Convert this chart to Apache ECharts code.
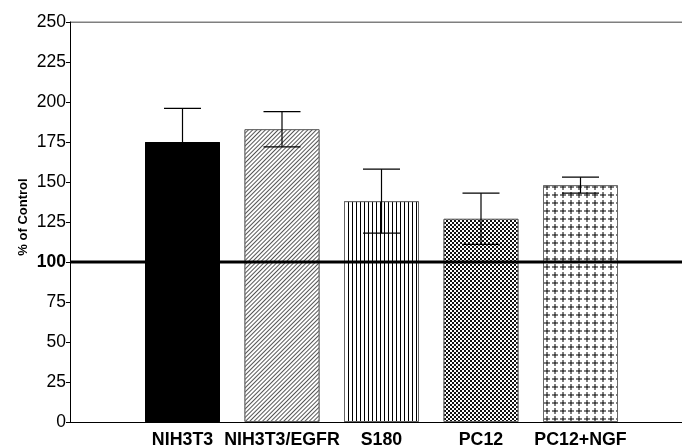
<!DOCTYPE html>
<html>
<head>
<meta charset="utf-8">
<script src="https://cdn.jsdelivr.net/npm/echarts@6/dist/echarts.min.js"></script>
<style>
  html, body { margin: 0; padding: 0; background: #fff; }
  #chart { width: 682px; height: 447px; }
</style>
</head>
<body>
<div id="chart"></div>
<script>
// Cell lines and their response, expressed as % of control
const categories = ['NIH3T3', 'NIH3T3/EGFR', 'S180', 'PC12', 'PC12+NGF'];
const percentOfControl = [175, 183, 138, 127, 148];
const errorSize = [21, 11, 20, 16, 5];
const controlLevel = 100;
const yTickValues = [0, 25, 50, 75, 100, 125, 150, 175, 200, 225, 250];

const FONT = 'Liberation Sans, Arial, Helvetica, sans-serif';
const yMin = yTickValues[0];
const yMax = yTickValues[yTickValues.length - 1];
const yStep = yTickValues[1] - yTickValues[0];

// Fill patterns for each bar
const patterns = [
  { symbol: 'none' },
  { symbol: 'rect', symbolSize: 1, color: '#555', backgroundColor: '#fff',
    dashArrayX: [1, 0], dashArrayY: [1, 2], rotation: -Math.PI / 4 },
  { symbol: 'rect', symbolSize: 1, color: '#000', backgroundColor: '#fff',
    dashArrayX: [1, 3], dashArrayY: [1, 0] },
  { symbol: 'rect', symbolSize: 1, color: '#111', backgroundColor: '#fff',
    dashArrayX: [[1.5, 1.5], [0, 1.5, 1.5, 0]], dashArrayY: [1.5, 0] },
  { symbol: 'path://M0,2.5h6v1h-6z M2.5,0h1v6h-1z', symbolSize: 1, symbolKeepAspect: false,
    color: '#000', backgroundColor: '#fff',
    dashArrayX: [5.5, 2], dashArrayY: [5.5, 2] }
];
const barFill = ['#000', '#fff', '#fff', '#fff', '#fff'];
const barBorder = ['#000', '#666', '#666', '#666', '#666'];

const barData = percentOfControl.map((v, i) => ({
  value: v,
  itemStyle: {
    color: barFill[i],
    borderColor: barBorder[i],
    borderWidth: 1,
    decal: patterns[i]
  }
}));

const errorData = percentOfControl.map((v, i) => [i, v - errorSize[i], v + errorSize[i]]);

const chart = echarts.init(document.getElementById('chart'), null, { renderer: 'canvas' });

chart.setOption({
  animation: false,
  backgroundColor: '#fff',
  aria: { enabled: true, decal: { show: true } },
  grid: [
    // frame grid: carries the value axis and the reference lines
    { left: 70, right: 0, top: 22, bottom: 25, containLabel: false, outerBoundsMode: 'none' },
    // bar grid: category bands
    { left: 132.75, right: 51.75, top: 22, bottom: 25, containLabel: false, outerBoundsMode: 'none' }
  ],
  xAxis: [
    {
      gridIndex: 0, type: 'value', min: 0, max: 1,
      axisLine: { show: true, onZero: false, lineStyle: { color: '#000', width: 1 } },
      axisTick: { show: false }, axisLabel: { show: false }, splitLine: { show: false }
    },
    {
      gridIndex: 1, type: 'category', data: categories,
      axisLine: { show: false }, axisTick: { show: false }, splitLine: { show: false },
      axisLabel: {
        interval: 0,
        color: '#000', fontFamily: FONT, fontWeight: 'bold', fontSize: 17.8, margin: 9
      }
    }
  ],
  yAxis: [
    {
      gridIndex: 0, type: 'value', min: yMin, max: yMax, interval: yStep,
      axisLine: { show: true, lineStyle: { color: '#000', width: 1 } },
      axisTick: { show: true, length: 4, lineStyle: { color: '#000' } },
      splitLine: { show: false },
      axisLabel: {
        color: '#000', fontFamily: FONT, fontSize: 17.5, margin: 4,
        formatter: v => (v === controlLevel ? '{b|' + v + '}' : String(v)),
        rich: { b: { fontWeight: 'bold', fontSize: 17.5, fontFamily: FONT, color: '#000' } }
      },
      name: '% of Control',
      nameLocation: 'middle',
      nameRotate: 90,
      nameGap: 40,
      nameMoveOverlap: false,
      nameTextStyle: {
        color: '#000', fontFamily: FONT, fontWeight: 'bold', fontSize: 13,
        padding: [0, 0, 0, 10]
      }
    },
    {
      gridIndex: 1, type: 'value', min: yMin, max: yMax, interval: yStep, show: false
    }
  ],
  series: [
    {
      type: 'bar', xAxisIndex: 1, yAxisIndex: 1,
      barWidth: 75, data: barData, silent: true, z: 2
    },
    {
      type: 'custom', xAxisIndex: 1, yAxisIndex: 1, silent: true, z: 5,
      data: errorData,
      renderItem: (params, api) => {
        const idx = api.value(0);
        const top = api.coord([idx, api.value(2)]);
        const bot = api.coord([idx, api.value(1)]);
        const half = 18.5;
        const style = { stroke: '#000', lineWidth: 1.2, fill: null };
        return {
          type: 'group',
          children: [
            { type: 'line', shape: { x1: top[0], y1: top[1], x2: bot[0], y2: bot[1] }, style },
            { type: 'line', shape: { x1: top[0] - half, y1: top[1], x2: top[0] + half, y2: top[1] }, style },
            { type: 'line', shape: { x1: bot[0] - half, y1: bot[1], x2: bot[0] + half, y2: bot[1] }, style }
          ]
        };
      }
    },
    {
      // top border of the plot
      type: 'line', xAxisIndex: 0, yAxisIndex: 0, silent: true, z: 6,
      symbol: 'none', data: [[0, yMax], [1, yMax]],
      lineStyle: { color: '#000', width: 1 }
    },
    {
      // control level
      type: 'line', xAxisIndex: 0, yAxisIndex: 0, silent: true, z: 7,
      symbol: 'none', data: [[0, controlLevel], [1, controlLevel]],
      lineStyle: { color: '#000', width: 3 }
    }
  ]
});
</script>
</body>
</html>
